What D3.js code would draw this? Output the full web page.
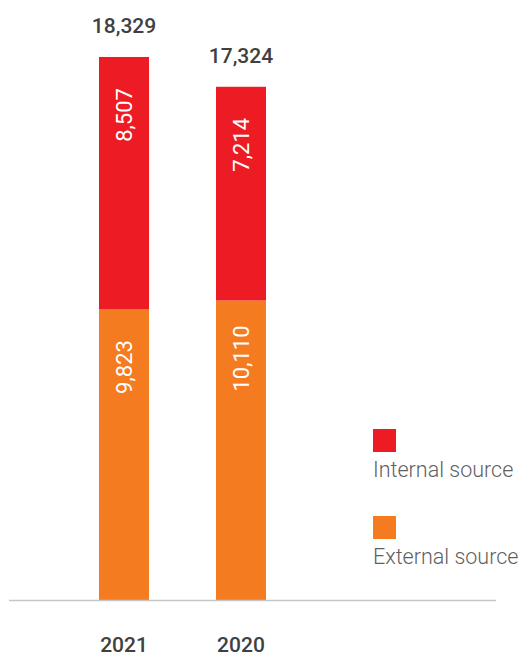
<!DOCTYPE html>
<html>
<head>
<meta charset="utf-8">
<script src="https://cdn.jsdelivr.net/npm/d3@7"></script>
<style>
  body { margin: 0; background: #fff; }
  svg { display: block; font-family: Roboto, "Noto Sans", sans-serif; }
</style>
</head>
<body>
<div id="chart"></div>
<script>
// Data
const years = ['2021', '2020'];
const internalSource = [8507, 7214];
const externalSource = [9823, 10110];
const totals = [18329, 17324];
const seriesNames = ['Internal source', 'External source'];
const seriesColors = ['#ED1C24', '#F47B20'];

const width = 525;
const height = 657;
const baseY = 600;

const svg = d3.select('#chart')
  .append('svg')
  .attr('width', width)
  .attr('height', height);

// Scales
const x = d3.scaleBand()
  .domain(years)
  .range([99, 266])
  .paddingInner(0.5726)
  .paddingOuter(0);

const y = d3.scaleLinear()
  .domain([0, 18329])
  .range([baseY, 57]);

// Stacked rows
const rows = years.map((yr, i) => ({
  year: yr,
  external: externalSource[i],
  internal: internalSource[i],
  total: totals[i]
}));

const stack = d3.stack().keys(['external', 'internal']);
const stacked = stack(rows);
const colorOf = { external: seriesColors[1], internal: seriesColors[0] };

const layers = svg.selectAll('.layer')
  .data(stacked)
  .enter()
  .append('g')
  .attr('class', 'layer')
  .attr('fill', d => colorOf[d.key]);

layers.selectAll('rect')
  .data(d => d)
  .enter()
  .append('rect')
  .attr('x', d => x(d.data.year))
  .attr('width', x.bandwidth())
  .attr('y', d => y(d[1]))
  .attr('height', d => y(d[0]) - y(d[1]));

// Value labels inside segments (rotated)
layers.selectAll('text')
  .data(d => d.map(v => ({ v, key: d.key })))
  .enter()
  .append('text')
  .attr('transform', d => {
    const cx = x(d.v.data.year) + x.bandwidth() / 2;
    const cy = y(d.v[1]) + 58;
    return `translate(${cx},${cy}) rotate(-90)`;
  })
  .attr('text-anchor', 'middle')
  .attr('dy', '0.36em')
  .attr('fill', '#fff')
  .style('font-size', '22px')
  .text(d => d3.format(',')(d.v.data[d.key]));

// Totals above bars
svg.selectAll('.total')
  .data(rows)
  .enter()
  .append('text')
  .attr('class', 'total')
  .attr('x', d => x(d.year) + x.bandwidth() / 2)
  .attr('y', d => y(d.total) - 24)
  .attr('text-anchor', 'middle')
  .attr('fill', '#404040')
  .style('font-size', '21px')
  .style('font-weight', '500')
  .text(d => d3.format(',')(d.total));

// Baseline
svg.append('line')
  .attr('x1', 9)
  .attr('x2', 496)
  .attr('y1', baseY + 0.5)
  .attr('y2', baseY + 0.5)
  .attr('stroke', '#c6c6c6')
  .attr('stroke-width', 1.5);

// X axis labels
const xAxis = svg.append('g')
  .attr('transform', `translate(0,${baseY})`)
  .call(d3.axisBottom(x).tickSize(0).tickPadding(0));
xAxis.select('.domain').remove();
xAxis.selectAll('text')
  .attr('y', 52)
  .attr('dy', 0)
  .attr('fill', '#404040')
  .style('font-family', 'Roboto, "Noto Sans", sans-serif')
  .style('font-size', '21px')
  .style('font-weight', '500');

// Legend
const legend = svg.selectAll('.legend')
  .data(seriesNames)
  .enter()
  .append('g')
  .attr('class', 'legend')
  .attr('transform', (d, i) => `translate(373,${429 + i * 87})`);

legend.append('rect')
  .attr('width', 23)
  .attr('height', 23)
  .attr('fill', (d, i) => seriesColors[i]);

legend.append('text')
  .attr('x', 0)
  .attr('y', 48)
  .attr('fill', '#5f5f5f')
  .style('font-size', '21.5px')
  .style('font-weight', '300')
  .text(d => d);
</script>
</body>
</html>
